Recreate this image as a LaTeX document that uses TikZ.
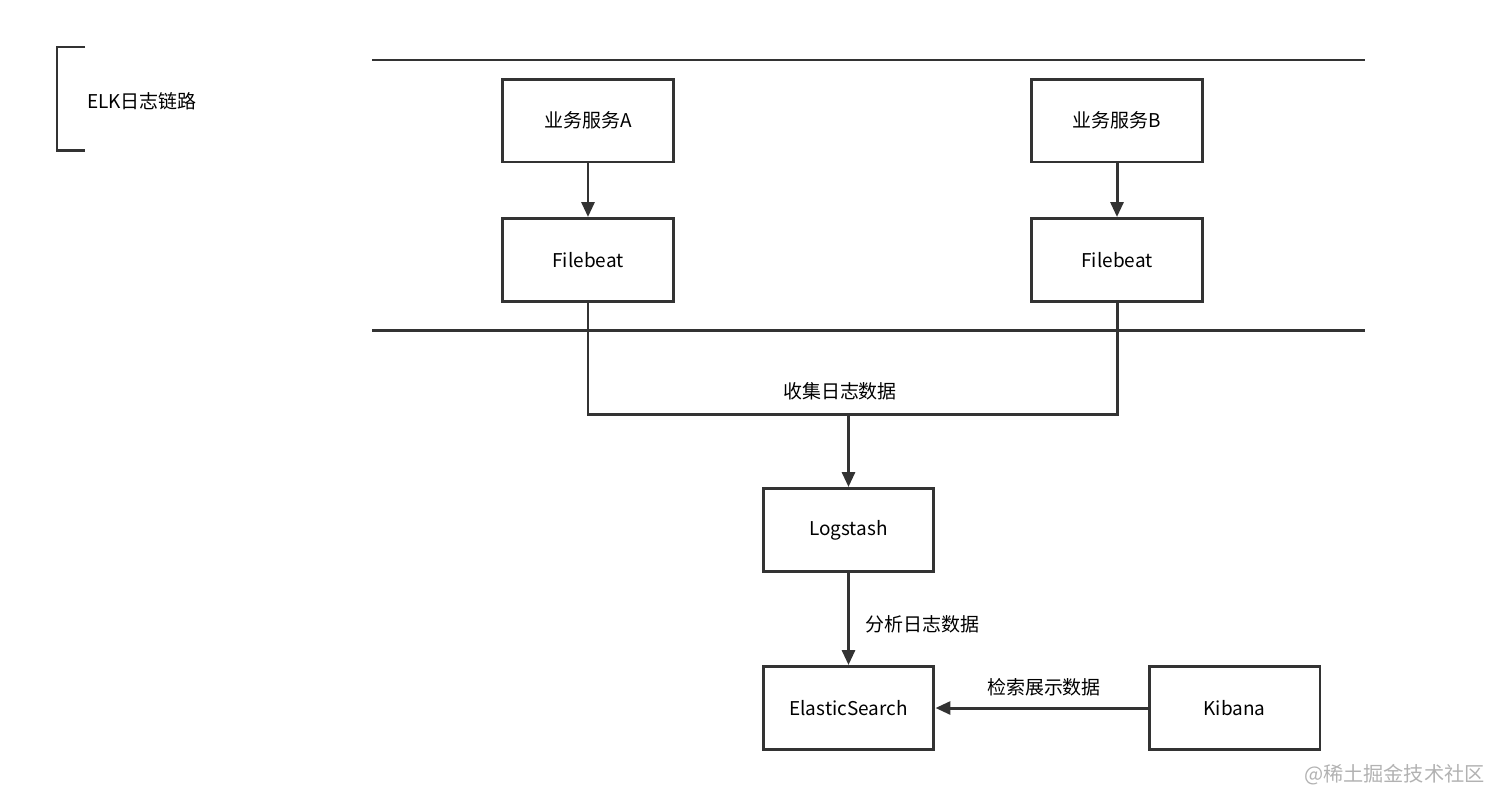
\documentclass[tikz,border=0pt]{standalone}
\usepackage{fontspec}
\setmainfont{Noto Sans CJK SC}
\usepackage{xcolor}
\usepackage{tikz}
\usetikzlibrary{arrows.meta,positioning}

\definecolor{linegray}{HTML}{333333}

\begin{document}
\begin{tikzpicture}[
    x=0.02cm, y=-0.02cm,
    >={Triangle[length=0.3cm, width=0.26cm]},
    every node/.style={font=\fontsize{10.8pt}{13pt}\selectfont, text=black},
    box/.style={draw=linegray, line width=1.7pt, minimum width=3.42cm, minimum height=1.66cm, inner sep=0pt},
    line/.style={draw=linegray, line width=1.7pt},
    arrow/.style={->, draw=linegray, line width=1.7pt}
]

\useasboundingbox (0,0) rectangle (1512,809);

% === Title bracket ===
\draw[line] (85,47) -- (57,47) -- (57,150) -- (85,150);
\node[anchor=west] (title) at (81,101) {ELK日志链路};

% === Separator lines ===
\draw[line] (372,60) -- (1365,60);
\draw[line] (372,330) -- (1365,330);

% === Services and shippers ===
\node[box] (svcA) at (588,120.5) {业务服务A};
\node[box] (svcB) at (1117,120.5) {业务服务B};
\node[box] (beatA) at (588,260) {Filebeat};
\node[box] (beatB) at (1117,260) {Filebeat};

\draw[arrow] (svcA) -- (beatA);
\draw[arrow] (svcB) -- (beatB);

% === Collection ===
\coordinate (merge) at (848.5,414);
\draw[line] (beatA.south) -- (beatA.south |- merge) -- (beatB.south |- merge) -- (beatB.south);
\node (collect) at (840,391) {收集日志数据};

% === Processing and storage ===
\node[box] (logstash) at (848.5,530) {Logstash};
\node[box] (es) at (848.5,708) {ElasticSearch};
\node[box] (kibana) at (1234.5,708) {Kibana};

\draw[arrow] (merge) -- (logstash);
\draw[arrow] (logstash) -- node[right, xshift=0.2cm, yshift=-0.1cm] {分析日志数据} (es);
\draw[arrow] (kibana) -- node[above, yshift=0.1cm, xshift=0.05cm] {检索展示数据} (es);

% Watermark
\node[anchor=east, font=\fontsize{11.5pt}{14pt}\selectfont, text=gray!60] (mark) at (1491,775) {@稀土掘金技术社区};

\end{tikzpicture}
\end{document}
